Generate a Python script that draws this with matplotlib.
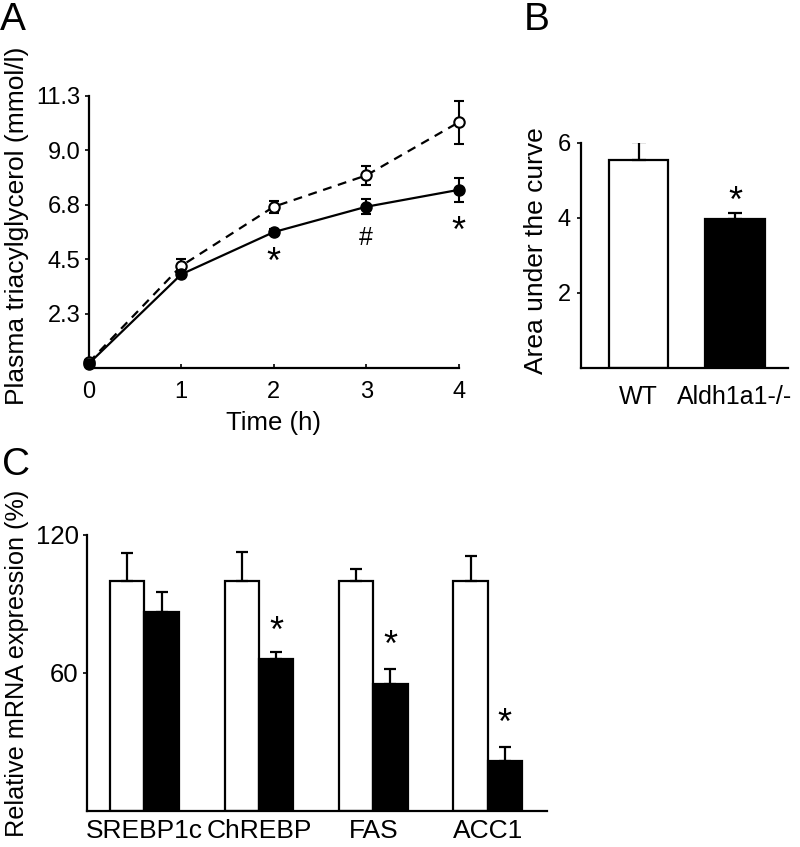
import matplotlib
matplotlib.use("Agg")
import matplotlib.pyplot as plt
import numpy as np

plt.rcParams['font.family'] = ['Liberation Sans', 'DejaVu Sans']

# ---- Panel A data ----
time_h = [0, 1, 2, 3, 4]
wt_tg = [0.25, 4.25, 6.7, 8.0, 10.2]
wt_tg_err = [0.1, 0.3, 0.25, 0.4, 0.9]
ko_tg = [0.2, 3.9, 5.65, 6.7, 7.4]
ko_tg_err = [0.1, 0.15, 0.12, 0.3, 0.5]
a_yticks = [2.26, 4.52, 6.78, 9.04, 11.3]
a_yticklabels = ['2.3', '4.5', '6.8', '9.0', '11.3']
a_marks = [(2, 4.8, '*'), (3, 5.5, '#'), (4, 6.1, '*')]

# ---- Panel B data ----
b_groups = ['WT', 'Aldh1a1-/-']
b_values = [5.55, 3.97]
b_errors = [0.47, 0.15]
b_star_y = 4.7

# ---- Panel C data ----
genes = ['SREBP1c', 'ChREBP', 'FAS', 'ACC1']
c_wt = [100, 100, 100, 100]
c_wt_err = [12, 12.5, 5, 11]
c_ko = [86.5, 66, 55, 21.7]
c_ko_err = [8.5, 3, 6.5, 6]
c_star_y = [None, 82.6, 76.5, 42.6]

STAR_FS = 26


def mark(ax, x, y, s):
    fs = STAR_FS if s == '*' else 18
    frac = 0.57 if s == '*' else 0.36
    ax.annotate(s, (x, y), xytext=(0, -frac * fs), textcoords='offset points',
                ha='center', va='baseline', fontsize=fs)


fig = plt.figure(figsize=(8, 8.47), dpi=100)
axA = fig.add_axes([0.111, 0.565, 0.4625, 0.322])
axB = fig.add_axes([0.726, 0.5655, 0.259, 0.266])
axC = fig.add_axes([0.109, 0.0425, 0.575, 0.326])

for ax in (axA, axB, axC):
    for s in ('top', 'right'):
        ax.spines[s].set_visible(False)
    for s in ('left', 'bottom'):
        ax.spines[s].set_linewidth(1.6)

# Panel A
axA.errorbar(time_h, wt_tg, yerr=wt_tg_err, fmt='o', ls=(0, (4, 3)), color='black',
             mfc='white', mec='black', mew=1.5, ms=7.5, lw=1.6, capsize=3.5,
             elinewidth=1.5, capthick=1.5, clip_on=False, zorder=3)
axA.errorbar(time_h, ko_tg, yerr=ko_tg_err, fmt='o-', color='black',
             mfc='black', mec='black', ms=8, lw=1.6, capsize=3.5,
             elinewidth=1.5, capthick=1.5, clip_on=False, zorder=4)
axA.set_xlim(0, 4)
axA.set_ylim(0, 11.3)
axA.set_xticks(time_h)
axA.set_yticks(a_yticks)
axA.set_yticklabels(a_yticklabels)
axA.tick_params(axis='x', direction='in', length=3, width=1.2, labelsize=17, pad=9)
axA.tick_params(axis='y', direction='out', length=3, width=1.2, labelsize=17, pad=3)
axA.set_xlabel('Time (h)', fontsize=18.5, labelpad=6)
axA.set_ylabel('Plasma triacylglycerol (mmol/l)', fontsize=19)
axA.yaxis.set_label_coords(-0.162, 0.523)
for x, y, m in a_marks:
    mark(axA, x, y, m)

# Panel B
xb = np.arange(len(b_groups))
axB.bar(xb, b_values, width=0.62, color=['white', 'black'], edgecolor='black',
        linewidth=1.6, yerr=[[0, 0], b_errors],
        error_kw=dict(ecolor='black', elinewidth=1.6, capsize=5, capthick=1.6))
axB.set_xlim(-0.6, 1.55)
axB.set_ylim(0, 6)
axB.set_yticks([2, 4, 6])
axB.set_xticks(xb)
axB.set_xticklabels(b_groups)
axB.tick_params(axis='x', length=0, labelsize=18, pad=12)
axB.tick_params(axis='y', direction='out', length=3, width=1.2, labelsize=17, pad=4)
axB.set_ylabel('Area under the curve', fontsize=19)
axB.yaxis.set_label_coords(-0.16, 0.52)
mark(axB, 1, b_star_y, '*')

# Panel C
xc = np.arange(len(genes))
w = 0.3
axC.bar(xc - w / 2, c_wt, width=w, color='white', edgecolor='black', linewidth=1.6,
        yerr=[[0] * 4, c_wt_err],
        error_kw=dict(ecolor='black', elinewidth=1.6, capsize=4, capthick=1.6))
axC.bar(xc + w / 2, c_ko, width=w, color='black', edgecolor='black', linewidth=1.6,
        yerr=[[0] * 4, c_ko_err],
        error_kw=dict(ecolor='black', elinewidth=1.6, capsize=4, capthick=1.6))
axC.set_xlim(-0.5, 3.52)
axC.set_ylim(0, 120)
axC.set_yticks([60, 120])
axC.set_xticks(xc)
axC.set_xticklabels(genes)
axC.tick_params(axis='x', length=0, labelsize=19, pad=6)
axC.tick_params(axis='y', direction='out', length=3, width=1.2, labelsize=18.5, pad=3)
axC.set_ylabel('Relative mRNA expression (%)', fontsize=18.2)
axC.yaxis.set_label_coords(-0.126, 0.535)
for i, sy in enumerate(c_star_y):
    if sy is not None:
        mark(axC, xc[i] + w / 2, sy, '*')

# Panel letters
fig.text(0.0, 1 - 2 / 847, 'A', fontsize=28, va='top', ha='left')
fig.text(524 / 800, 1 - 2 / 847, 'B', fontsize=28, va='top', ha='left')
fig.text(2 / 800, 1 - 447 / 847, 'C', fontsize=28, va='top', ha='left')

fig.savefig('out.png', dpi=100)
